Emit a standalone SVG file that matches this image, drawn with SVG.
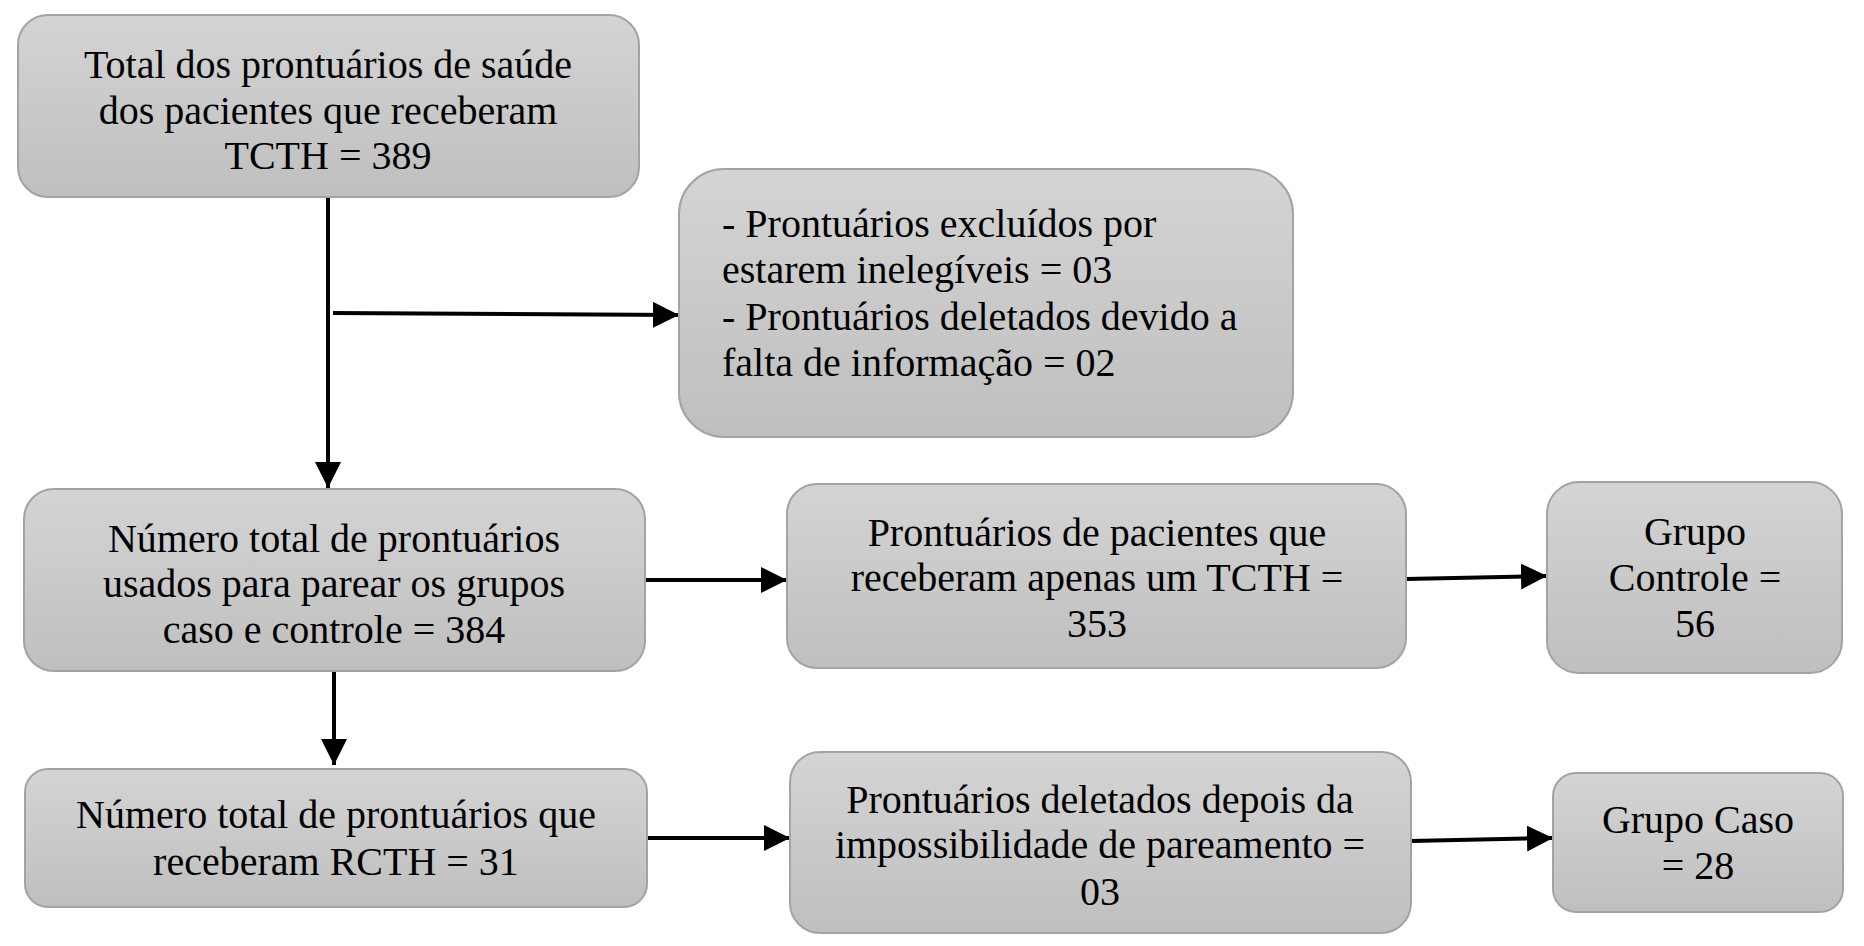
<svg xmlns="http://www.w3.org/2000/svg" width="1864" height="946" viewBox="0 0 1864 946">
<style>
.box{fill:url(#g);stroke:#a3a3a3;stroke-width:2}
.t{font-family:"Liberation Serif","Times New Roman",serif;font-size:40px;fill:#000;text-anchor:middle}
.tl{font-family:"Liberation Serif","Times New Roman",serif;font-size:40px;fill:#000;text-anchor:start}
.c{stroke:#000;stroke-width:4;fill:none;marker-end:url(#ah)}
</style>
<defs>
<linearGradient id="g" x1="0" y1="0" x2="0" y2="1">
<stop offset="0" stop-color="#d4d4d4"/>
<stop offset="1" stop-color="#bfbfbf"/>
</linearGradient>
<marker id="ah" markerUnits="userSpaceOnUse" markerWidth="26" markerHeight="26" viewBox="0 0 24 24" refX="24" refY="12" orient="auto">
<path d="M0,0 L24,12 L0,24 Z" fill="#000"/>
</marker>
</defs>
<rect width="1864" height="946" fill="#fff"/>
<g id="connectors">
<line class="c" x1="328" y1="197" x2="328" y2="488"/>
<line class="c" x1="333" y1="313" x2="679" y2="315"/>
<line class="c" x1="334" y1="671" x2="334" y2="765"/>
<line class="c" x1="645" y1="580" x2="787" y2="580"/>
<line class="c" x1="647" y1="838" x2="790" y2="838"/>
<line class="c" x1="1406" y1="579" x2="1547" y2="576"/>
<line class="c" x1="1411" y1="841" x2="1553" y2="838"/>
</g>
<g id="n1">
<rect class="box" x="18" y="15" width="621" height="182" rx="30"/>
<text class="t" x="328" y="78">Total dos prontuários de saúde</text>
<text class="t" x="328" y="124">dos pacientes que receberam</text>
<text class="t" x="328" y="169">TCTH = 389</text>
</g>
<g id="n2">
<rect class="box" x="679" y="169" width="614" height="268" rx="45"/>
<text class="tl" x="722" y="237">- Prontuários excluídos por</text>
<text class="tl" x="722" y="283">estarem inelegíveis = 03</text>
<text class="tl" x="722" y="330">- Prontuários deletados devido a</text>
<text class="tl" x="722" y="376">falta de informação = 02</text>
</g>
<g id="n3">
<rect class="box" x="24" y="489" width="621" height="182" rx="30"/>
<text class="t" x="334" y="552">Número total de prontuários</text>
<text class="t" x="334" y="597">usados para parear os grupos</text>
<text class="t" x="334" y="643">caso e controle = 384</text>
</g>
<g id="n4">
<rect class="box" x="787" y="484" width="619" height="184" rx="30"/>
<text class="t" x="1097" y="546">Prontuários de pacientes que</text>
<text class="t" x="1097" y="591">receberam apenas um TCTH =</text>
<text class="t" x="1097" y="637">353</text>
</g>
<g id="n5">
<rect class="box" x="1547" y="482" width="295" height="191" rx="32"/>
<text class="t" x="1695" y="545">Grupo</text>
<text class="t" x="1695" y="591">Controle =</text>
<text class="t" x="1695" y="637">56</text>
</g>
<g id="n6">
<rect class="box" x="25" y="769" width="622" height="138" rx="23"/>
<text class="t" x="336" y="828">Número total de prontuários que</text>
<text class="t" x="336" y="875">receberam RCTH = 31</text>
</g>
<g id="n7">
<rect class="box" x="790" y="752" width="621" height="181" rx="30"/>
<text class="t" x="1100" y="813">Prontuários deletados depois da</text>
<text class="t" x="1100" y="858">impossibilidade de pareamento =</text>
<text class="t" x="1100" y="905">03</text>
</g>
<g id="n8">
<rect class="box" x="1553" y="773" width="290" height="139" rx="23"/>
<text class="t" x="1698" y="833">Grupo Caso</text>
<text class="t" x="1698" y="879">= 28</text>
</g>
</svg>
